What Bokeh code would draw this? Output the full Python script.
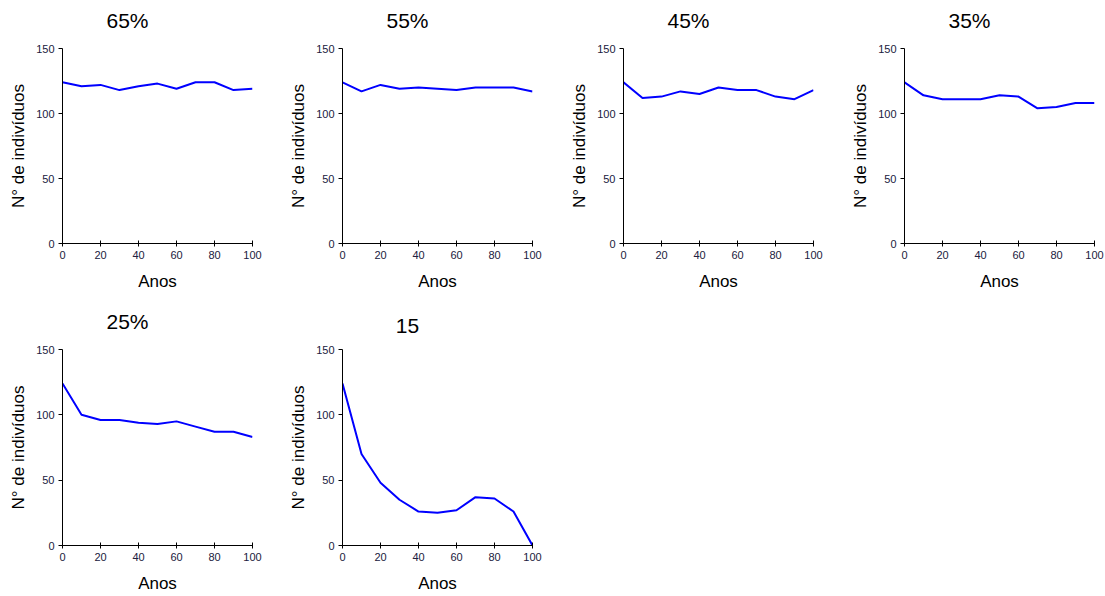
from bokeh.plotting import figure
from bokeh.layouts import column, row
from bokeh.models import FixedTicker, Title
from bokeh.embed import file_html
from bokeh.resources import INLINE

anos = [0, 10, 20, 30, 40, 50, 60, 70, 80, 90, 100]
titles = ["65%", "55%", "45%", "35%", "25%", "15"]
s65 = [124, 121, 122, 118, 121, 123, 119, 124, 124, 118, 119]
s55 = [124, 117, 122, 119, 120, 119, 118, 120, 120, 120, 117]
s45 = [124, 112, 113, 117, 115, 120, 118, 118, 113, 111, 118]
s35 = [124, 114, 111, 111, 111, 114, 113, 104, 105, 108, 108]
s25 = [124, 100, 96, 96, 94, 93, 95, 91, 87, 87, 83]
s15 = [124, 70, 48, 35, 26, 25, 27, 37, 36, 26, 0]
series = [s65, s55, s45, s35, s25, s15]
x_ticks = [0, 20, 40, 60, 80, 100]
y_ticks = [0, 50, 100, 150]
x_label = "Anos"
y_label = "N° de indivíduos"

FONT = "Liberation Sans"
TICK_COLOR = "#202040"
TITLE_SIZE = 21

# approximate Arial advance widths (em) for title centring
W = {"%": 0.889}
def text_width(s, size):
    return sum(W.get(c, 0.556) for c in s) * size

def make(title, ys, width, height, frame_top, frame_h):
    left = 62
    fw = 190
    p = figure(width=width, height=height, x_range=(0, 100), y_range=(0, 150),
               output_backend="svg", toolbar_location=None, title=None,
               min_border_left=left, min_border_right=width - left - fw,
               min_border_top=frame_top, min_border_bottom=height - frame_top - frame_h)
    p.line(anos, ys, line_color="#0000ff", line_width=2)
    p.outline_line_color = None
    p.xgrid.visible = False
    p.ygrid.visible = False
    p.background_fill_color = "white"
    p.border_fill_color = "white"

    spacer = Title(text=" ", text_font_size="1px", standoff=10)
    t = Title(text=title, align="left",
              offset=127 - left - text_width(title, TITLE_SIZE) / 2,
              text_font=FONT, text_font_size=f"{TITLE_SIZE}px",
              text_font_style="normal", text_color="black",
              standoff=8, vertical_align="bottom")
    p.add_layout(spacer, "above")
    p.add_layout(t, "above")

    xa = p.xaxis[0]
    xa.ticker = FixedTicker(ticks=x_ticks)
    xa.major_tick_in = 3
    xa.major_tick_out = 3
    xa.minor_tick_in = 0
    xa.minor_tick_out = 0
    xa.major_label_standoff = 4
    xa.axis_label = x_label
    xa.axis_label_standoff = 10

    ya = p.yaxis[0]
    ya.ticker = FixedTicker(ticks=y_ticks)
    ya.major_tick_in = 0
    ya.major_tick_out = 4
    ya.minor_tick_in = 0
    ya.minor_tick_out = 0
    ya.major_label_standoff = 4
    ya.axis_label = y_label
    ya.axis_label_standoff = 5
    ya.major_label_orientation = "horizontal"

    for a in (xa, ya):
        a.axis_line_color = "black"
        a.major_tick_line_color = "black"
        a.major_label_text_font = FONT
        a.major_label_text_font_size = "11px"
        a.major_label_text_color = TICK_COLOR
        a.axis_label_text_font = FONT
        a.axis_label_text_font_size = "17px"
        a.axis_label_text_font_style = "normal"
        a.axis_label_text_color = "black"
    return p

widths = [280, 281, 281, 263]
plots1 = [make(titles[i], series[i], widths[i], 301, 48, 195) for i in range(4)]
plots2 = [make(titles[4 + i], series[4 + i], widths[i], 295, 48, 196) for i in range(2)]

layout = column(row(*plots1), row(*plots2))
open("out.html", "w").write(file_html(layout, INLINE))
